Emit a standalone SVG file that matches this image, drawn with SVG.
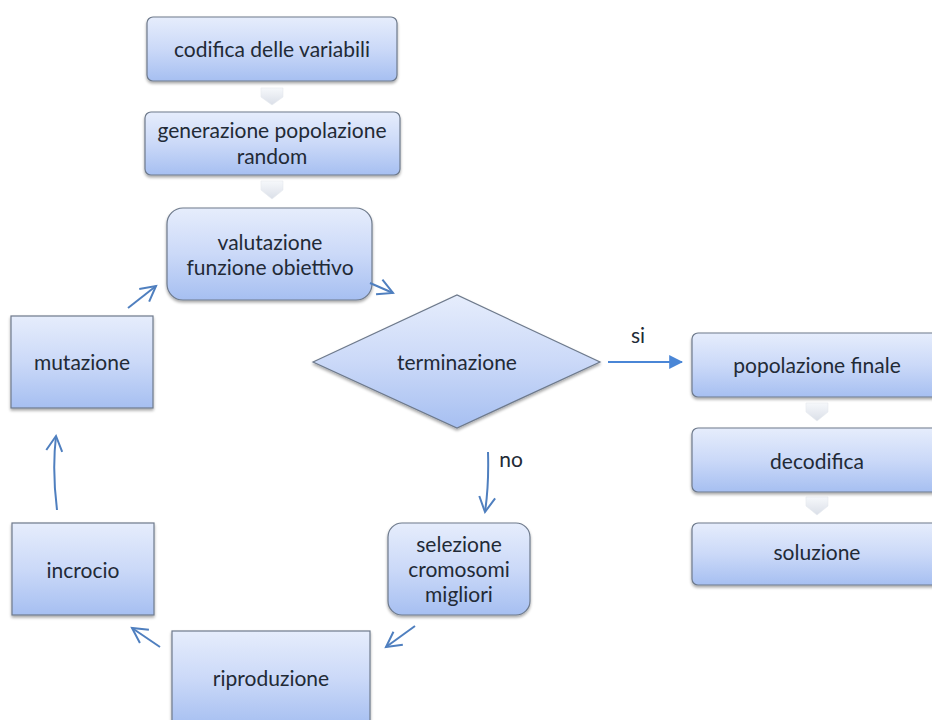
<svg xmlns="http://www.w3.org/2000/svg" width="932" height="720" viewBox="0 0 932 720">
<defs>
  <linearGradient id="g" x1="0" y1="0" x2="0" y2="1">
    <stop offset="0" stop-color="#e6edfc"/>
    <stop offset="0.5" stop-color="#cbd9f8"/>
    <stop offset="1" stop-color="#a6bff1"/>
  </linearGradient>
  <linearGradient id="cg" x1="0" y1="0" x2="0" y2="1">
    <stop offset="0" stop-color="#f6f8fb"/>
    <stop offset="1" stop-color="#dadfe8"/>
  </linearGradient>
  <filter id="sh" x="-10%" y="-10%" width="120%" height="130%">
    <feGaussianBlur in="SourceAlpha" stdDeviation="1.5"/>
    <feOffset dx="0" dy="2" result="b"/>
    <feComponentTransfer><feFuncA type="linear" slope="0.35"/></feComponentTransfer>
    <feMerge><feMergeNode/><feMergeNode in="SourceGraphic"/></feMerge>
  </filter>
  <marker id="open2" viewBox="0 0 20 20" refX="17" refY="10" markerWidth="20" markerHeight="20" markerUnits="userSpaceOnUse" orient="auto">
    <path d="M2,2 L17,10 L2,18" fill="none" stroke="#4f7fbf" stroke-width="2"/>
  </marker>
  <marker id="fill" viewBox="0 0 12 12" refX="11" refY="6" markerWidth="14" markerHeight="14" markerUnits="userSpaceOnUse" orient="auto">
    <path d="M0,0 L12,6 L0,12 Z" fill="#4a86d6"/>
  </marker>
</defs>
<style>
  .box{fill:url(#g);stroke:#6e7a8c;stroke-width:1.2;filter:url(#sh)}
  .chev{fill:url(#cg);stroke:#e6e9ee;stroke-width:0.6}
  text{font-family:Lato,"Liberation Sans",sans-serif;font-size:21px;fill:#222a36;text-anchor:middle}
  .conn{fill:none;stroke:#4f7fbf;stroke-width:2}
</style>
<rect width="932" height="720" fill="#ffffff"/>

<g id="chevrons">
  <path class="chev" d="M261,88 H283 V97 L272,105 L261,97 Z"/>
  <path class="chev" d="M261,181 H283 V190 L272,199 L261,190 Z"/>
  <path class="chev" d="M806,403 H828 V412 L817,421 L806,412 Z"/>
  <path class="chev" d="M806,497 H828 V506 L817,515 L806,506 Z"/>
</g>

<g id="codifica">
  <rect class="box" x="147" y="17" width="250" height="64" rx="6"/>
  <text x="272" y="57">codifica delle variabili</text>
</g>
<g id="generazione">
  <rect class="box" x="145" y="112" width="255" height="63" rx="6"/>
  <text x="272" y="138">generazione popolazione</text>
  <text x="272" y="164">random</text>
</g>
<g id="valutazione">
  <rect class="box" x="167" y="208" width="205" height="92" rx="16"/>
  <text x="270" y="250">valutazione</text>
  <text x="270" y="275">funzione obiettivo</text>
</g>
<g id="terminazione">
  <path class="box" d="M313,362 L457,295 L600,362 L457,428 Z"/>
  <text x="457" y="370">terminazione</text>
</g>
<g id="popolazione">
  <rect class="box" x="692" y="333" width="252" height="64" rx="6"/>
  <text x="817" y="373">popolazione finale</text>
</g>
<g id="decodifica">
  <rect class="box" x="692" y="428" width="252" height="64" rx="6"/>
  <text x="817" y="469">decodifica</text>
</g>
<g id="soluzione">
  <rect class="box" x="692" y="523" width="252" height="62" rx="6"/>
  <text x="817" y="560">soluzione</text>
</g>
<g id="selezione">
  <rect class="box" x="388" y="523" width="142" height="92" rx="14"/>
  <text x="459" y="552">selezione</text>
  <text x="459" y="577">cromosomi</text>
  <text x="459" y="602">migliori</text>
</g>
<g id="riproduzione">
  <rect class="box" x="172" y="631" width="198" height="95" rx="0"/>
  <text x="271" y="686">riproduzione</text>
</g>
<g id="incrocio">
  <rect class="box" x="12" y="523" width="142" height="92" rx="0"/>
  <text x="83" y="578">incrocio</text>
</g>
<g id="mutazione">
  <rect class="box" x="11" y="316" width="142" height="92" rx="0"/>
  <text x="82" y="370">mutazione</text>
</g>

<g id="connectors">
  <line class="conn" x1="370" y1="283" x2="393" y2="293" marker-end="url(#open2)"/>
  <line x1="608" y1="362" x2="682" y2="362" stroke="#4a86d6" stroke-width="2" marker-end="url(#fill)"/>
  <path class="conn" d="M488,452 Q489,485 485,512" marker-end="url(#open2)"/>
  <line class="conn" x1="415" y1="626" x2="386" y2="647" marker-end="url(#open2)"/>
  <line class="conn" x1="160" y1="647" x2="132" y2="628" marker-end="url(#open2)"/>
  <path class="conn" d="M57,510 Q52,470 56,436" marker-end="url(#open2)"/>
  <line class="conn" x1="128" y1="308" x2="156" y2="286" marker-end="url(#open2)"/>
</g>
<g id="labels">
  <text x="638" y="343">si</text>
  <text x="511" y="467">no</text>
</g>
</svg>
